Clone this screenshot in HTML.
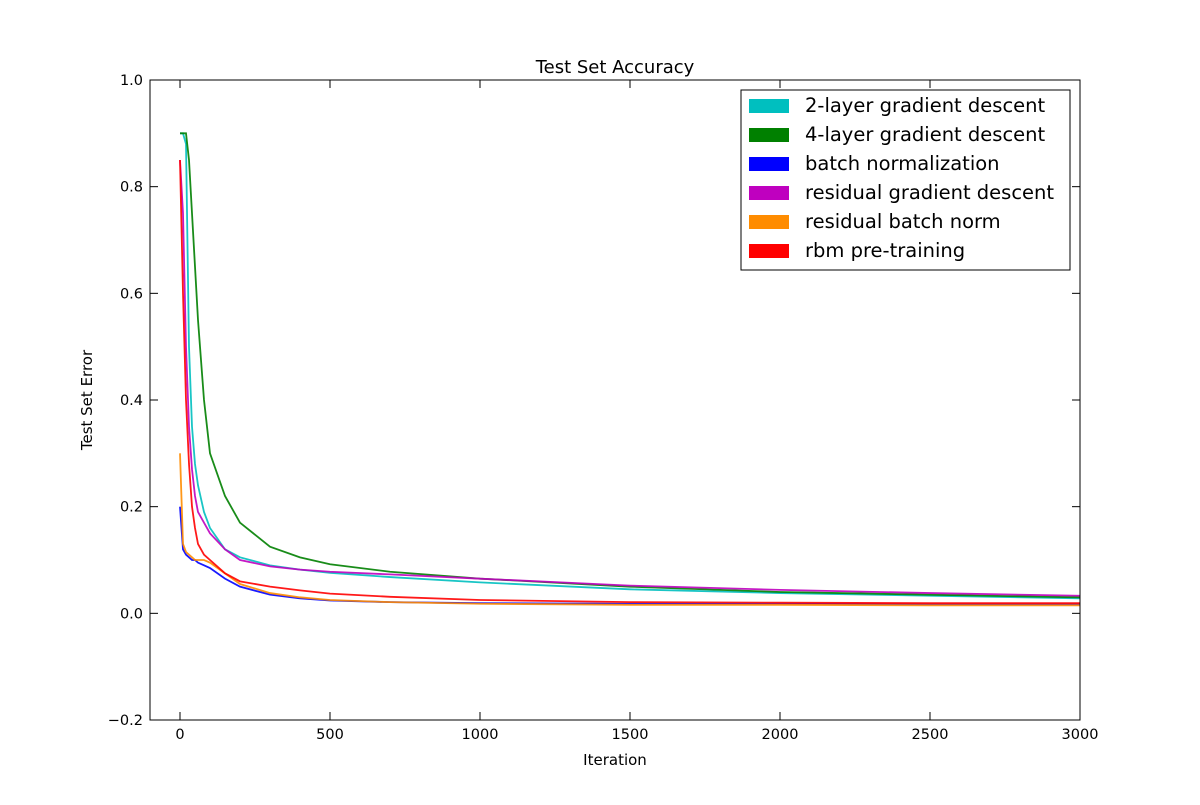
<!DOCTYPE html>
<html><head><meta charset="utf-8"><style>
body{margin:0;background:#fff;}
svg text{font-family:"DejaVu Sans","Liberation Sans",sans-serif;}
</style></head><body>
<svg id="chart" width="1200" height="800" xmlns="http://www.w3.org/2000/svg">
<rect width="1200" height="800" fill="#fff"/>
<g id="series"></g>
<rect x="150" y="80" width="930" height="640" fill="none" stroke="#000" stroke-width="1"/>
<g id="axes"></g>
<text x="615" y="73" text-anchor="middle" font-size="18">Test Set Accuracy</text>
<text x="615" y="765" text-anchor="middle" font-size="15">Iteration</text>
<text x="92" y="400" text-anchor="middle" font-size="15" transform="rotate(-90 92 400)">Test Set Error</text>
<g id="legend"></g>
</svg>
<script>
const iters=[0,10,20,30,40,50,60,80,100,150,200,300,400,500,700,1000,1500,2000,2500,3000];
const twoLayer=[0.9,0.9,0.88,0.5,0.35,0.28,0.24,0.19,0.16,0.12,0.105,0.09,0.082,0.076,0.068,0.058,0.045,0.038,0.033,0.028];
const fourLayer=[0.9,0.9,0.9,0.85,0.75,0.65,0.55,0.4,0.3,0.22,0.17,0.125,0.105,0.092,0.078,0.065,0.05,0.04,0.035,0.03];
const batchNorm=[0.2,0.12,0.11,0.105,0.1,0.1,0.095,0.09,0.085,0.065,0.05,0.035,0.028,0.024,0.021,0.019,0.018,0.018,0.017,0.017];
const residualGD=[0.85,0.75,0.5,0.35,0.27,0.22,0.19,0.17,0.15,0.12,0.1,0.088,0.082,0.078,0.073,0.065,0.052,0.044,0.038,0.033];
const residualBN=[0.3,0.13,0.115,0.11,0.105,0.1,0.1,0.1,0.095,0.075,0.055,0.038,0.03,0.025,0.021,0.018,0.016,0.016,0.015,0.015];
const rbm=[0.85,0.6,0.4,0.28,0.2,0.16,0.13,0.11,0.1,0.075,0.06,0.05,0.043,0.037,0.031,0.025,0.021,0.02,0.019,0.019];
const seriesNames=["2-layer gradient descent","4-layer gradient descent","batch normalization","residual gradient descent","residual batch norm","rbm pre-training"];
const seriesColors=["#00bfbf","#008000","#0000ff","#bf00bf","#ff8c00","#ff0000"];
const xTicks=[0,500,1000,1500,2000,2500,3000];
const yTicks=[-0.2,0,0.2,0.4,0.6,0.8,1.0];
const NS="http://www.w3.org/2000/svg";
const X=v=>150+(v+100)*930/3100;
const Y=v=>80+(1.0-v)*640/1.2;
function mk(t,a){const e=document.createElementNS(NS,t);for(const k in a)e.setAttribute(k,a[k]);return e;}
const sg=document.getElementById('series');
const all=[twoLayer,fourLayer,batchNorm,residualGD,residualBN,rbm];
const keys=["two-layer","four-layer","batch-norm","residual-gd","residual-bn","rbm"];
all.forEach((s,i)=>{
  const p=mk('polyline',{points:s.map((v,j)=>X(iters[j])+','+Y(v)).join(' '),fill:'none',stroke:seriesColors[i],'stroke-width':'1.8','stroke-opacity':'0.9'});
  
  
  sg.appendChild(p);
});
const ag=document.getElementById('axes');
xTicks.forEach(t=>{
  const x=X(t);
  ag.appendChild(mk('line',{x1:x,x2:x,y1:720,y2:712,stroke:'#000'}));
  ag.appendChild(mk('line',{x1:x,x2:x,y1:80,y2:88,stroke:'#000'}));
  const tx=mk('text',{x:x,y:739,'text-anchor':'middle','font-size':'14.5'});
  tx.textContent=t;
  
  
  ag.appendChild(tx);
});
yTicks.forEach(t=>{
  const y=Y(t);
  ag.appendChild(mk('line',{x1:150,x2:158,y1:y,y2:y,stroke:'#000'}));
  ag.appendChild(mk('line',{x1:1080,x2:1072,y1:y,y2:y,stroke:'#000'}));
  const tx=mk('text',{x:143,y:y+5,'text-anchor':'end','font-size':'14.5'});
  tx.textContent=(t<0?'\u2212':'')+Math.abs(t).toFixed(1);
  
  
  ag.appendChild(tx);
});
const lg=document.getElementById('legend');
const box=mk('rect',{x:741,y:90,width:329,height:180,fill:'#fff',stroke:'#000'});


lg.appendChild(box);
seriesNames.forEach((n,i)=>{
  const y=106+i*29;
  const r=mk('rect',{x:749,y:y-7,width:40,height:14,fill:seriesColors[i]});
  
  
  lg.appendChild(r);
  const t=mk('text',{x:805,y:y+6,'font-size':'19.5'});
  t.textContent=n;
  
  
  lg.appendChild(t);
});
</script>
</body></html>
